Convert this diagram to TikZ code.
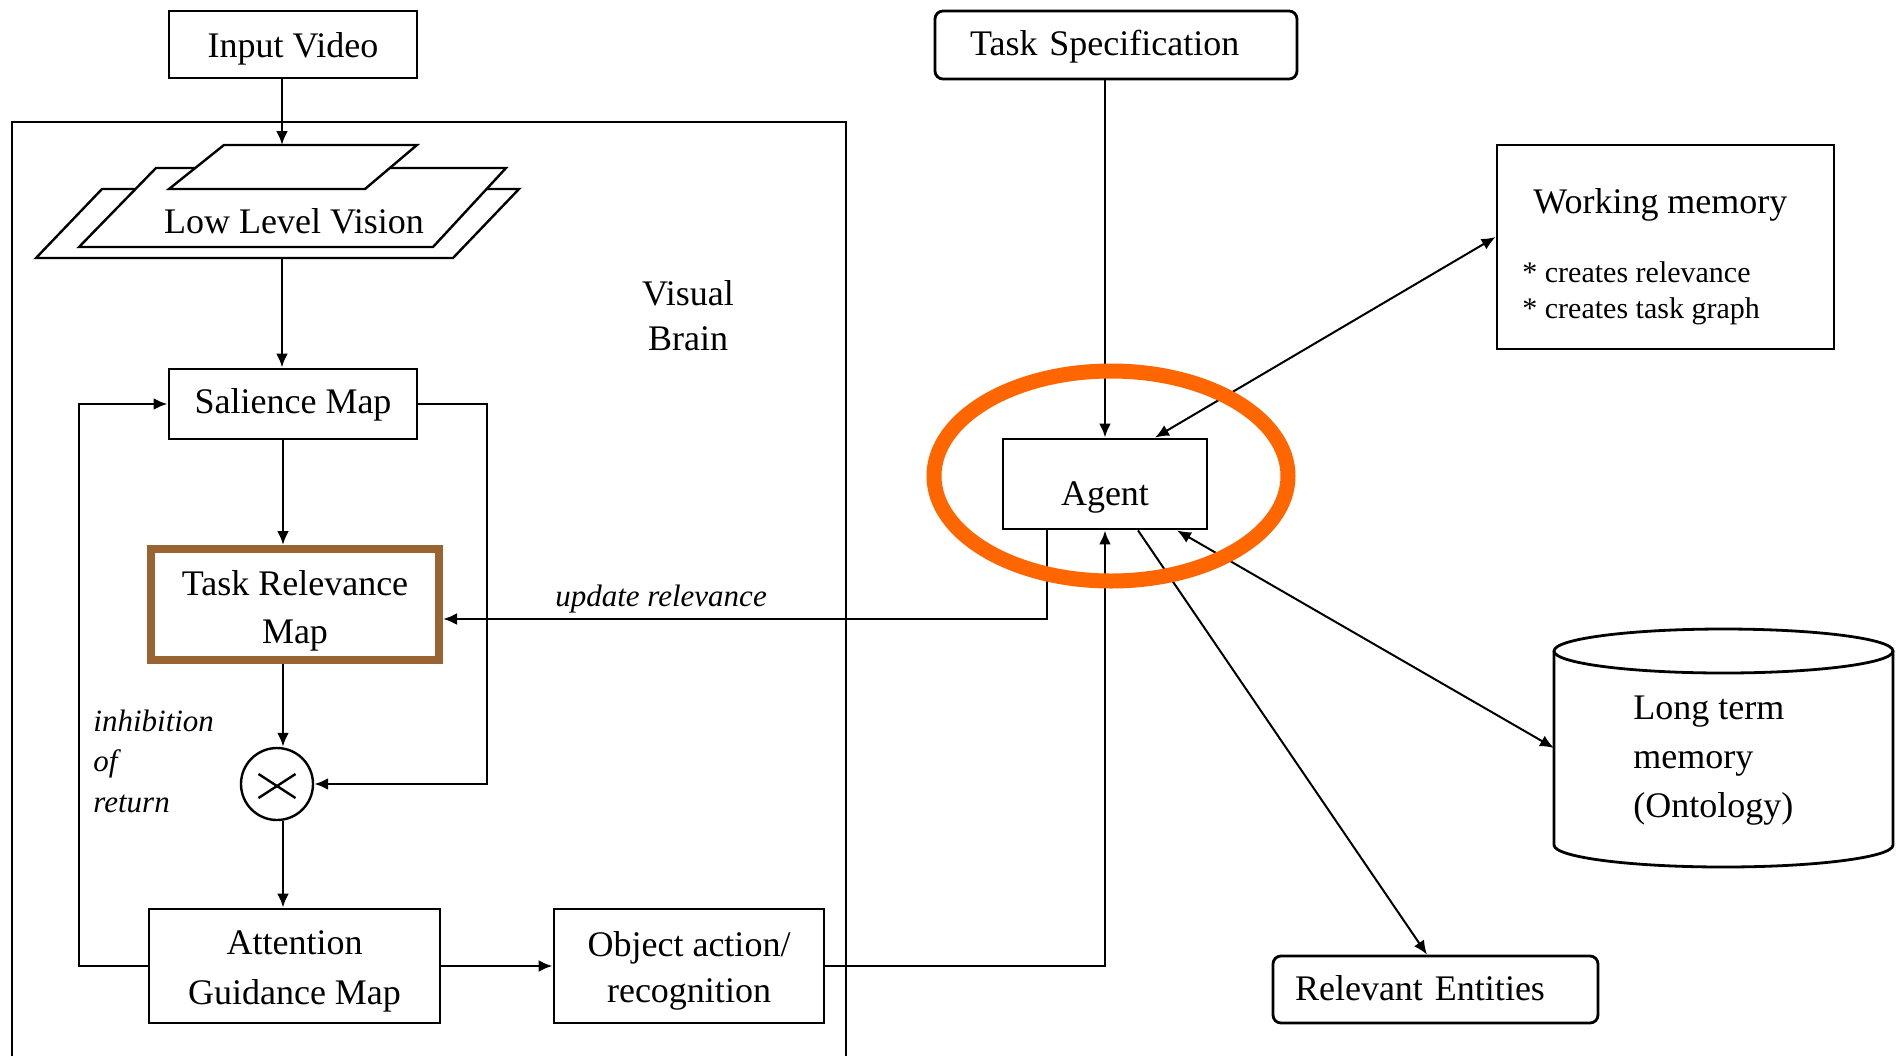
\documentclass[tikz,border=0pt]{standalone}
\usepackage{fontspec}
\setmainfont{Liberation Serif}
\usetikzlibrary{arrows.meta,calc}
\definecolor{trmbrown}{RGB}{154,100,50}
\definecolor{ringorange}{RGB}{255,102,0}
% place the baseline of #2 at #1 below the node centre
\newcommand\setbl[2]{\raisebox{0pt}[\dimexpr 12pt+#1\relax][\dimexpr 12pt-#1\relax]{#2}}
\newcommand\txtrows[2]{\begin{tabular}[t]{@{}#1@{}}#2\end{tabular}}
\begin{document}
\begin{tikzpicture}[x=0.5pt,y=-0.5pt,
  box/.style={draw, line width=1.4pt, font=\fontsize{18}{24}\selectfont, inner sep=0pt},
  conn/.style={line width=1.4pt},
  arr/.style={conn, -{Latex[length=7pt,width=6pt]}},
  darr/.style={line width=1pt, {Latex[length=7pt,width=6pt]}-{Latex[length=7pt,width=6pt]}},
  sarr/.style={line width=1pt, -{Latex[length=7pt,width=6pt]}},
  lbl/.style={font=\fontsize{15.5}{20.25}\selectfont\itshape, inner sep=0pt},
  plain/.style={inner sep=0pt, font=\fontsize{18}{22}\selectfont},
  layer/.style={draw, line width=1.2pt, fill=white}
]
\useasboundingbox (0,0) rectangle (1902,1056);

% Visual brain frame
\draw[conn] (12,1056) -- (12,122) -- (846,122) -- (846,1056);
\node[plain, anchor=base, font=\fontsize{18}{22.5}\selectfont] (vb) at (688,305) {\txtrows{c}{Visual\\Brain}};

% Input video
\node[box, minimum width=124pt, minimum height=33.5pt] (video) at (293,44.5) {\setbl{6.25pt}{Input Video}};

% Low level vision stack
\draw[layer] (102,189) -- (519,189) -- (453,258) -- (36,258) -- cycle;
\draw[layer] (156,168) -- (506,168) -- (433,247) -- (79,247) -- cycle;
\draw[layer] (224,145) -- (417,145) -- (365,189) -- (169,189) -- cycle;
\node[plain, anchor=base] (llv) at (294,233) {Low Level Vision};
\coordinate (llvtop) at (282,145);
\coordinate (llvbot) at (282,258);
\coordinate (col) at (283,0);
\coordinate (fbR) at (487,0);
\coordinate (fbL) at (79,0);

% Left column
\node[box, minimum width=124pt, minimum height=35pt] (sal) at (293,404) {\setbl{4.5pt}{Salience Map}};
\node[box, draw=trmbrown, line width=4pt, minimum width=144pt, minimum height=55.5pt]
      (trm) at (295,604.5) {\setbl{-4.75pt}{\txtrows{c}{Task Relevance\\Map}}};
\node[circle, draw, line width=1.2pt, minimum size=36pt, inner sep=0pt] (mult) at (277,784) {};
\draw[line width=1.2pt] ([shift={(-9.25pt,5pt)}]mult.center) -- ([shift={(9.25pt,-7pt)}]mult.center);
\draw[line width=1.2pt] ([shift={(-9.25pt,-7pt)}]mult.center) -- ([shift={(9.25pt,5pt)}]mult.center);
\node[box, minimum width=145.5pt, minimum height=57pt, font=\fontsize{18}{25}\selectfont]
      (agm) at (294.5,966) {\setbl{-6pt}{\txtrows{c}{Attention\\Guidance Map}}};
\node[box, minimum width=135pt, minimum height=57pt, font=\fontsize{18}{23}\selectfont]
      (obj) at (689,966) {\setbl{-5pt}{\txtrows{c}{Object action/\\recognition}}};
\node[lbl, anchor=base west] (inh) at (93,731) {\txtrows{l}{inhibition\\of\\return}};

% Right side
\node[box, rounded corners=4pt, minimum height=34pt, text width=146pt, inner xsep=17.5pt, align=left]
      (task) at (1116,45) {\setbl{5pt}{Task Specification}};
\node[box, minimum width=102pt, minimum height=45pt] (agent) at (1105,484) {\setbl{10.5pt}{Agent}};
\node[draw, line width=1.4pt, minimum width=168.5pt, minimum height=102pt] (wm) at (1665.5,247) {};
\node[plain, anchor=base west] (wmtitle) at (1533,213) {Working memory};
\node[plain, anchor=base west, font=\fontsize{15}{18}\selectfont] (wmitems) at (1522,282)
      {\txtrows{l}{* creates relevance\\{}* creates task graph}};

\draw[line width=1.4pt, fill=white] (1554,651) -- (1554,845) arc[start angle=180,end angle=0,x radius=169.5,y radius=22] -- (1893,651);
\draw[line width=1.4pt] (1723.5,651) ellipse[x radius=169.5, y radius=22];
\node[plain, anchor=base west, font=\fontsize{18}{24.5}\selectfont] (ltm) at (1633,719)
      {\txtrows{l}{Long term\\memory\\(Ontology)}};
\coordinate (ltmin) at (1554,748);

\node[box, rounded corners=4pt, minimum height=33.5pt, text width=140.5pt, inner xsep=11pt, align=left]
      (rel) at (1435.5,989.5) {\setbl{5.25pt}{Relevant Entities}};

% Connectors
\draw[arr] (video.south -| llvtop) -- (llvtop);
\draw[arr] (llvbot) -- (llvbot |- sal.north);
\draw[arr] (col |- sal.south) -- (col |- trm.north);
\draw[arr] (col |- trm.south) -- (col |- mult.north);
\draw[arr] (col |- mult.south) -- (col |- agm.north);
\draw[arr] (sal.east) -- (sal.east -| fbR) -- (fbR |- mult.east) -- (mult.east);
\draw[arr] (agm.west) -- (agm.west -| fbL) -- (fbL |- sal.west) -- (sal.west);
\draw[arr] (agm.east) -- (obj.west);
\draw[arr] (obj.east) -- (obj.east -| agent.south) -- (agent.south);
\draw[arr] (agent.north |- task.south) -- (agent.north);
\coordinate (ur) at (1047,619);
\draw[arr] ([xshift=-29pt]agent.south) -- (ur) -- (ur -| trm.east);
\node[lbl, anchor=base] (upd) at (661,606) {update relevance};
\draw[darr] ([yshift=5pt]wm.west) -- ([xshift=25pt]agent.north);
\draw[darr] ([xshift=36pt]agent.south) -- (ltmin);
\draw[sarr] ([xshift=16.5pt]agent.south) -- ([xshift=-4.25pt]rel.north);

% Highlight ring
\draw[line width=7.5pt, ringorange] (1111,476) ellipse[x radius=177, y radius=105];
\end{tikzpicture}
\end{document}
